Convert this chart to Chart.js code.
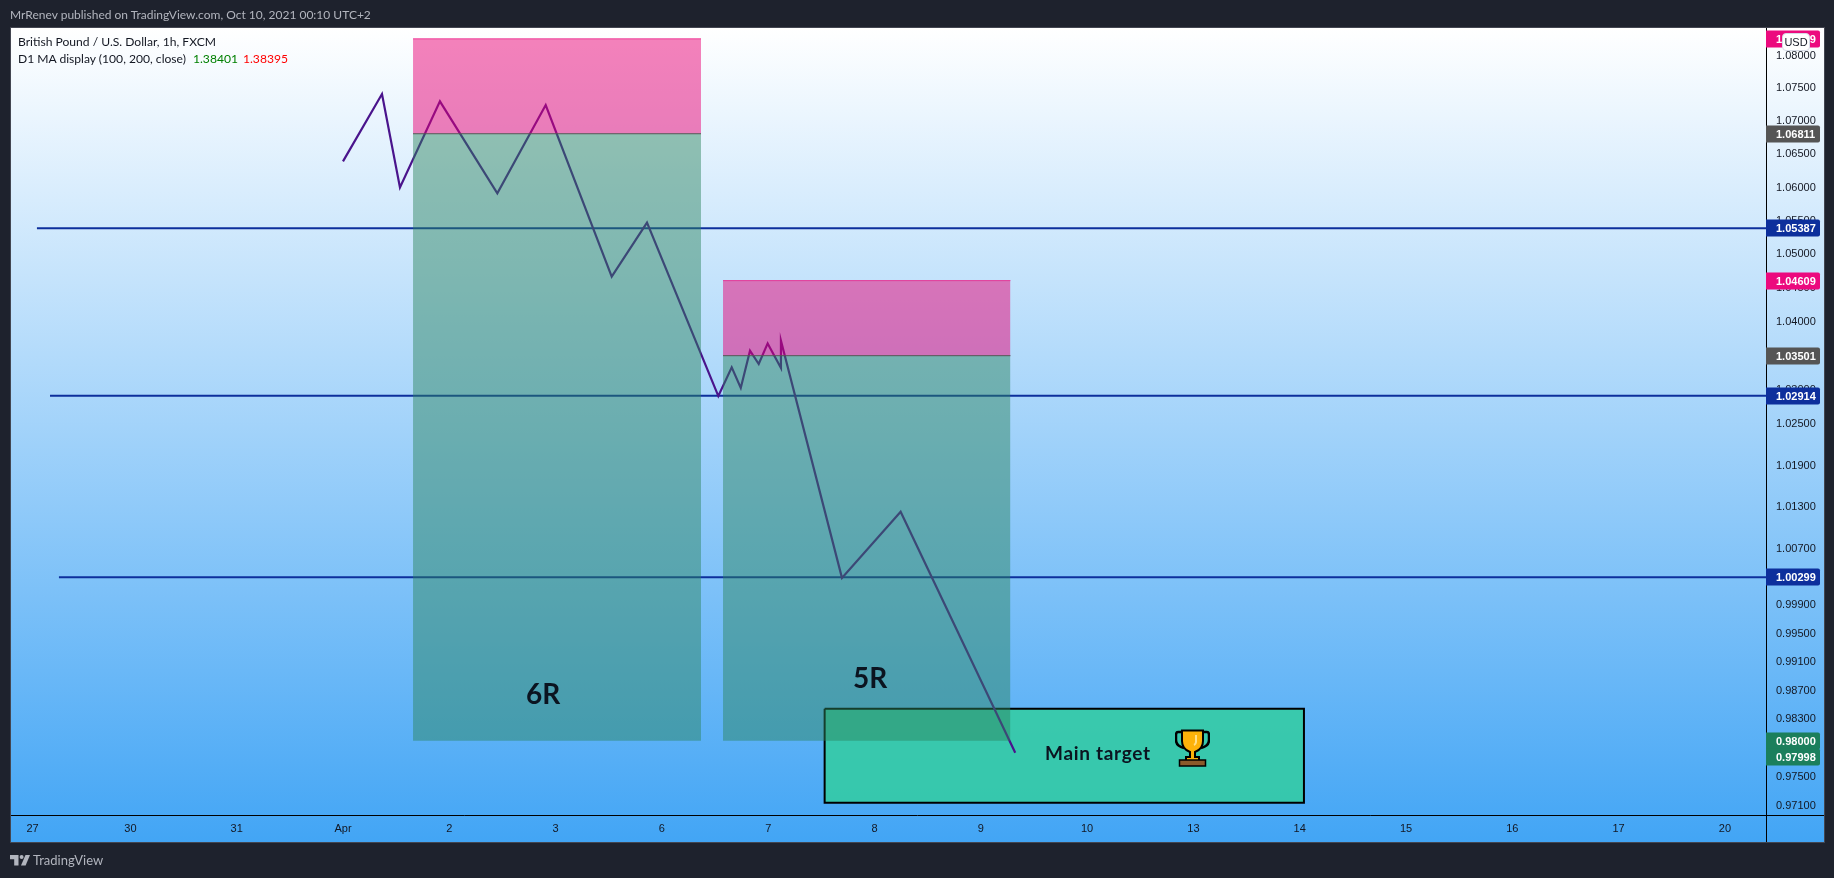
<!DOCTYPE html>
<html>
<head>
<meta charset="utf-8">
<title>GBPUSD idea</title>
<script src="https://cdn.jsdelivr.net/npm/chart.js@4"></script>
<style>
html,body{margin:0;padding:0;background:#1e222d;width:1834px;height:878px;overflow:hidden;}
canvas{position:absolute;left:0;top:0;display:block;}
.t{position:absolute;white-space:nowrap;font-family:Lato,"Open Sans",sans-serif;line-height:1;}
</style>
</head>
<body>
<canvas id="c" width="1834" height="878"></canvas>
<div class="t" style="left:10px;top:9px;font-size:12px;color:#b2b5be;">MrRenev published on TradingView.com, Oct 10, 2021 00:10 UTC+2</div>
<div class="t" style="left:18px;top:36px;font-size:12.1px;color:#131722;">British Pound / U.S. Dollar, 1h, FXCM</div>
<div class="t" style="left:18px;top:53px;font-size:12.1px;color:#131722;">D1 MA display (100, 200, close)</div>
<div class="t" style="left:193px;top:53px;font-size:12.1px;color:#008000;">1.38401</div>
<div class="t" style="left:243px;top:53px;font-size:12.1px;color:#ff0000;">1.38395</div>
<div class="t" style="left:526px;top:679px;font-size:28px;font-weight:700;color:#0b1420;">6R</div>
<div class="t" style="left:853px;top:663px;font-size:28px;font-weight:700;color:#0b1420;">5R</div>
<div class="t" style="left:1045px;top:743px;font-size:19px;font-weight:700;letter-spacing:0.7px;color:#0b1420;">Main target</div>
<svg style="position:absolute;left:1175px;top:729px;" width="35" height="38" viewBox="0 0 35 38">
  <path d="M8 3H3Q1 3 1 6V11Q1 17 9 19M27 3H32Q34 3 34 6V11Q34 17 26 19" fill="none" stroke="#000" stroke-width="2.5"/>
  <path d="M7 1.5H28V12Q28 20 20 23V28H24V32H11V28H15V23Q7 20 7 12Z" fill="#fdb20a" stroke="#000" stroke-width="2"/>
  <rect x="4.5" y="31" width="26" height="6" fill="#8b5a2b" stroke="#000" stroke-width="1.5"/>
  <path d="M21 6V13Q21 15 19 16" fill="none" stroke="#ffe08a" stroke-width="2"/>
</svg>
<div class="t" style="left:1782px;top:33px;width:26px;height:16px;line-height:16px;text-align:center;font-family:'Liberation Sans',sans-serif;font-size:11px;color:#131722;background:#fff;border:1px solid #d6dbe6;border-radius:4px;">USD</div>
<svg style="position:absolute;left:10px;top:855px;" width="20" height="11" viewBox="0 0 20 11">
  <path d="M0 0H8.5V10.5H4.2V4.2H0Z" fill="#b2b5be"/><circle cx="11.6" cy="2" r="2" fill="#b2b5be"/><path d="M15.5 0H20L15.6 10.5H11Z" fill="#b2b5be"/>
</svg>
<div class="t" style="left:33px;top:854px;font-size:13px;color:#b2b5be;">TradingView</div>
<script>
// session axis: 0 = Apr, one unit = one trading day
const xTickValues = [-2.92, -2, -1, 0, 1, 2, 3, 4, 5, 6, 7, 8, 9, 10, 11, 12, 13];
const xTickLabels = ['27', '30', '31', 'Apr', '2', '3', '6', '7', '8', '9', '10', '13', '14', '15', '16', '17', '20'];
const yTickValues = [1.08, 1.075, 1.07, 1.065, 1.06, 1.055, 1.05, 1.045, 1.04, 1.035, 1.03, 1.025, 1.019, 1.013, 1.007, 1.003, 0.999, 0.995, 0.991, 0.987, 0.983, 0.979, 0.975, 0.971];

const pathX = [0, 0.367, 0.536, 0.912, 1.452, 1.907, 2.528, 2.860, 3.531, 3.657, 3.742, 3.829, 3.911, 3.995, 4.120, 4.120, 4.694, 5.246, 6.324];
const pathY = [1.06393, 1.07415, 1.06001, 1.07302, 1.05911, 1.07247, 1.04667, 1.05472, 1.0291, 1.03329, 1.03028, 1.03574, 1.03379, 1.03681, 1.0332, 1.03721, 1.0029, 1.01236, 0.97834];

const levelPrices = [1.05387, 1.02914, 1.00299];
const levelStarts = [-2.879, -2.756, -2.672];

const zoneA = [0.659, 3.368];
const zoneB = [3.575, 6.279];
const zoneATop = 1.08259, zoneAEntry = 1.06811, zoneABottom = 0.98;
const zoneBTop = 1.04609, zoneBEntry = 1.03501, zoneBBottom = 0.97998;

const targetX = [4.531, 9.04];
const targetY = [0.98446, 0.97141];

const tagPrices = [1.08259, 1.06811, 1.05387, 1.04609, 1.03501, 1.02914, 1.00299, 0.98, 0.97998];
const tagColors = ['#ec0a7e', '#555555', '#0d2f9c', '#ec0a7e', '#555555', '#0d2f9c', '#0d2f9c', '#1b7f5c', '#1b7f5c'];

const X_MIN = -3.123, X_MAX = 13.396;
const Y_MIN = 0.96973, Y_MAX = 1.08425;
const AXIS_FONT = {family: '"Liberation Sans", sans-serif', size: 11};

function seg(xs, y) { return xs.map(function(x) { return {x: x, y: y}; }); }
function area(xs, top, bottom, color, edge) {
  return {data: seg(xs, top), fill: {value: bottom}, backgroundColor: color, borderColor: edge, borderWidth: 1, pointRadius: 0};
}

// page frame, gradient panel
const framePlugin = {
  id: 'frame',
  beforeDraw(chart) {
    const ctx = chart.ctx;
    ctx.save();
    ctx.fillStyle = '#1e222d';
    ctx.fillRect(0, 0, 1834, 878);
    const g = ctx.createLinearGradient(0, 28, 0, 843);
    g.addColorStop(0, '#ffffff');
    g.addColorStop(1, '#42a5f5');
    ctx.fillStyle = g;
    ctx.fillRect(11, 28, 1813, 814);
    ctx.strokeStyle = '#434651';
    ctx.lineWidth = 1;
    ctx.strokeRect(10.5, 27.5, 1814, 815);
    ctx.restore();
  },
  afterDraw(chart) {
    const ctx = chart.ctx, a = chart.chartArea, y = chart.scales.y;
    ctx.save();
    ctx.strokeStyle = '#000';
    ctx.lineWidth = 1;
    ctx.beginPath();
    ctx.moveTo(a.right - 0.5, 28); ctx.lineTo(a.right - 0.5, 842);
    ctx.moveTo(11, a.bottom + 0.5); ctx.lineTo(1824, a.bottom + 0.5);
    ctx.stroke();
    // price tags on the axis
    ctx.font = 'bold 11px "Liberation Sans", sans-serif';
    ctx.textBaseline = 'middle';
    tagPrices.forEach(function(p, i) {
      const py = Math.round(y.getPixelForValue(p)) + (i === tagPrices.length - 1 ? 16 : 0);
      ctx.fillStyle = tagColors[i];
      ctx.beginPath();
      ctx.roundRect(a.right - 1, py - 8.5, 54, 17, [0, 2, 2, 0]);
      ctx.fill();
      ctx.fillStyle = '#fff';
      ctx.fillText(p.toFixed(5), 1776, py + 0.5);
    });
    ctx.restore();
  }
};

// first dataset is painted last
const datasets = [
  area(zoneB, zoneBEntry, zoneBBottom, 'rgba(44,131,93,0.47)', '#555555'),
  area(zoneB, zoneBTop, zoneBEntry, 'rgba(235,0,116,0.49)', 'rgba(236,10,126,0.7)'),
  area(zoneA, zoneAEntry, zoneABottom, 'rgba(44,131,93,0.47)', '#555555'),
  area(zoneA, zoneATop, zoneAEntry, 'rgba(235,0,116,0.49)', 'rgba(236,10,126,0.7)'),
  {data: pathX.map(function(x, i) { return {x: x, y: pathY[i]}; }), borderColor: '#4a148c', borderWidth: 2.2, pointRadius: 0, fill: false, tension: 0}
];
levelPrices.forEach(function(p, i) {
  datasets.push({data: seg([levelStarts[i], X_MAX], p), borderColor: '#0d2f9c', borderWidth: 2, pointRadius: 0, fill: false});
});
datasets.push({
  data: [{x: targetX[0], y: targetY[0]}, {x: targetX[1], y: targetY[0]}, {x: targetX[1], y: targetY[1]}, {x: targetX[0], y: targetY[1]}, {x: targetX[0], y: targetY[0]}],
  borderColor: '#000', borderWidth: 2, pointRadius: 0, fill: false
});
datasets.push(area(targetX, targetY[0], targetY[1], 'rgba(50,205,160,0.85)', 'transparent'));

new Chart(document.getElementById('c'), {
  type: 'line',
  data: {datasets: datasets},
  plugins: [framePlugin],
  options: {
    responsive: false,
    animation: false,
    events: [],
    layout: {autoPadding: false, padding: {top: 28, left: 11, right: 11, bottom: 35}},
    plugins: {legend: {display: false}, tooltip: {enabled: false}},
    scales: {
      x: {
        type: 'linear',
        min: X_MIN,
        max: X_MAX,
        grid: {display: false, drawTicks: false},
        border: {display: false},
        afterFit(s) { s.height = 28; },
        afterBuildTicks(s) { s.ticks = xTickValues.map(function(v) { return {value: v}; }); },
        ticks: {
          autoSkip: false, maxRotation: 0, padding: 7, color: '#131722', font: AXIS_FONT,
          callback: function(v, i) { return xTickLabels[i]; }
        }
      },
      y: {
        type: 'logarithmic',
        position: 'right',
        min: Y_MIN,
        max: Y_MAX,
        grid: {display: false, drawTicks: false},
        border: {display: false},
        afterFit(s) { s.width = 56; },
        afterBuildTicks(s) { s.ticks = yTickValues.map(function(v) { return {value: v}; }); },
        ticks: {
          autoSkip: false, padding: 9, crossAlign: 'near', color: '#131722', font: AXIS_FONT,
          callback: function(v) { return Number(v).toFixed(5); }
        }
      }
    }
  }
});
</script>
</body>
</html>
